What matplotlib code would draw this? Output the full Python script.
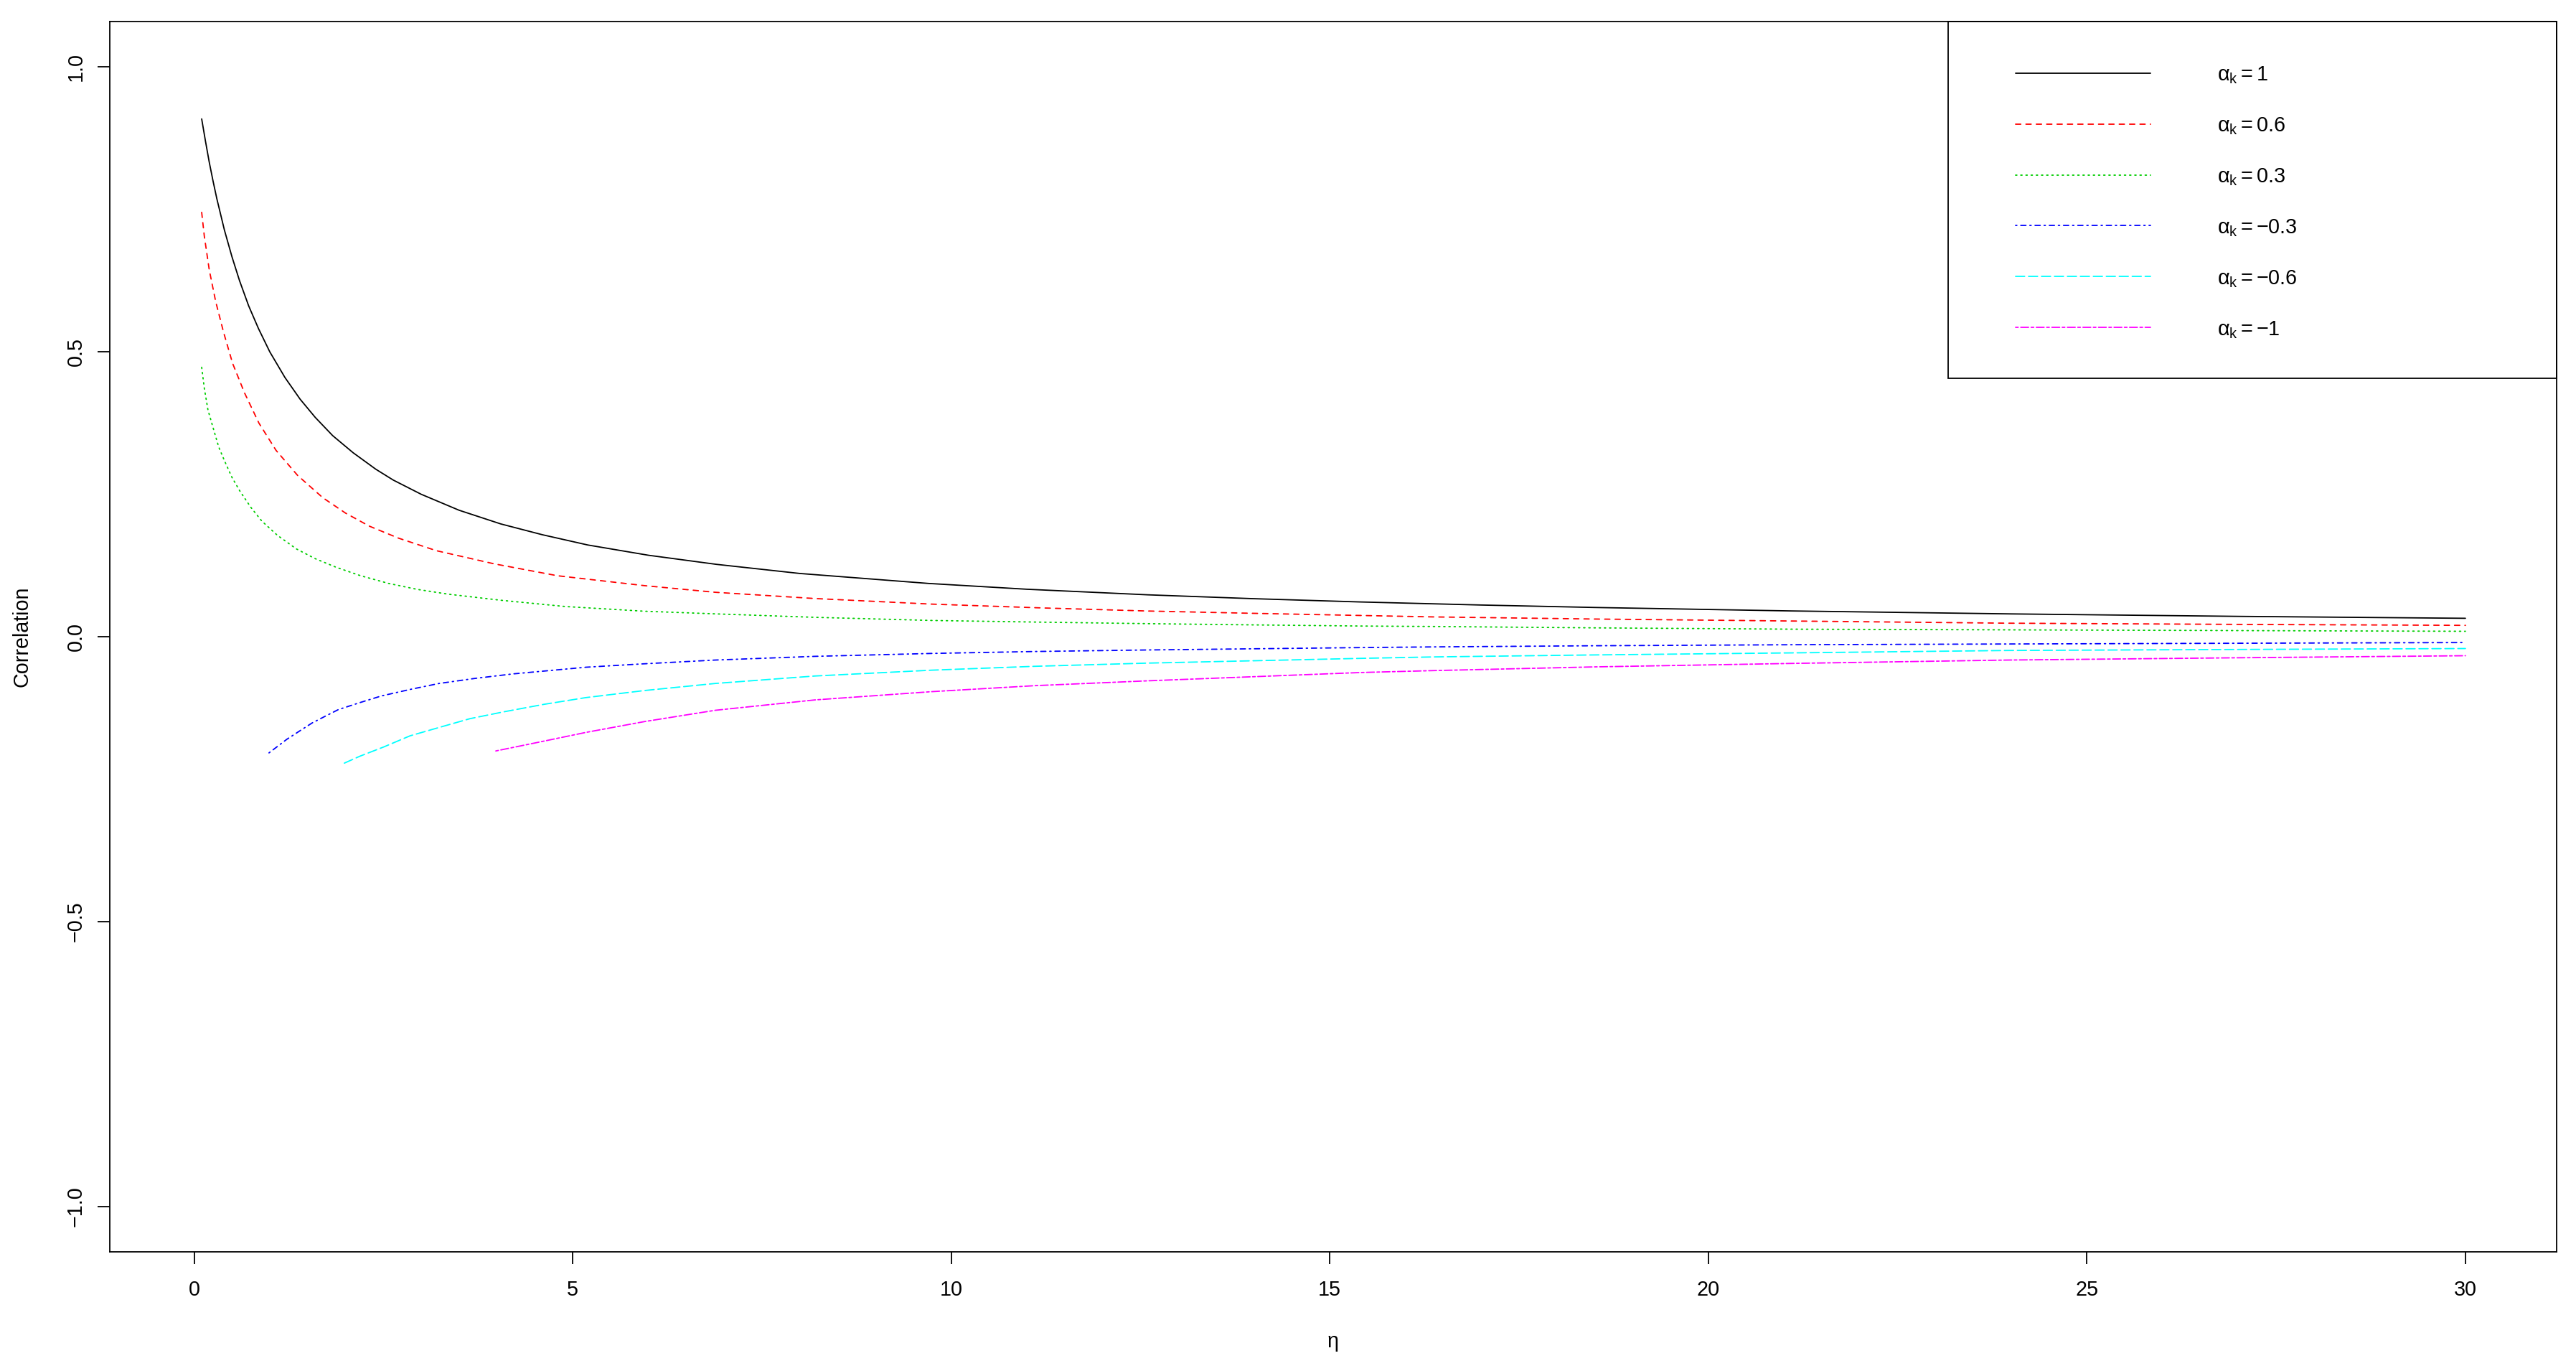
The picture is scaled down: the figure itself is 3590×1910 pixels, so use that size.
import matplotlib
matplotlib.use('Agg')
import matplotlib.pyplot as plt
from matplotlib.patches import Rectangle

plt.rcParams['font.family'] = ['Liberation Sans', 'DejaVu Sans']
plt.rcParams['mathtext.fontset'] = 'custom'
plt.rcParams['mathtext.rm'] = 'Liberation Sans'
plt.rcParams['mathtext.it'] = 'Liberation Sans'
plt.rcParams['mathtext.default'] = 'regular'

# values
eta_p1 = [0.1, 0.15, 0.2, 0.25, 0.3, 0.4, 0.5, 0.6, 0.72, 0.85, 1.0, 1.2, 1.4,
          1.6, 1.83, 2.1, 2.4, 2.63, 3.0, 3.5, 4.05, 4.6, 5.2, 6.0, 6.9, 8.0,
          9.7, 11.0, 12.6, 14.0, 15.4, 17.0, 18.5, 21.1, 24.0, 27.0, 30.0]
corr_p1 = [0.909, 0.870, 0.833, 0.800, 0.769, 0.714, 0.667, 0.625, 0.581, 0.541,
           0.500, 0.455, 0.417, 0.385, 0.353, 0.323, 0.294, 0.275, 0.250, 0.222,
           0.198, 0.179, 0.161, 0.143, 0.127, 0.111, 0.0935, 0.0833, 0.0735,
           0.0667, 0.061, 0.0556, 0.0513, 0.0452, 0.040, 0.0357, 0.0323]

eta_p06 = [0.1, 0.135, 0.2, 0.284, 0.388, 0.508, 0.666, 0.856, 1.083, 1.368,
           1.7, 2.0, 2.316, 2.7, 3.2, 3.96, 4.8, 5.95, 6.88, 8.2, 9.74, 11.2,
           12.59, 14.0, 15.43, 16.38, 18.5, 21.12, 23.96, 27.0, 30.0]
corr_p06 = [0.745, 0.703, 0.644, 0.589, 0.535, 0.480, 0.428, 0.375, 0.327, 0.283,
            0.244, 0.217, 0.194, 0.173, 0.151, 0.128, 0.107, 0.0896, 0.078,
            0.067, 0.0572, 0.0505, 0.0451, 0.041, 0.0372, 0.0347, 0.031,
            0.0275, 0.0237, 0.0216, 0.0199]

eta_p03 = [0.1, 0.135, 0.183, 0.246, 0.325, 0.404, 0.499, 0.603, 0.75, 0.894,
           1.1, 1.352, 1.6, 1.874, 2.2, 2.57, 2.95, 3.36, 4.05, 4.9, 5.95, 6.88,
           8.2, 9.74, 11.2, 12.59, 14.0, 15.43, 16.38, 18.5, 21.12, 23.96, 27.0,
           30.0]
corr_p03 = [0.473, 0.436, 0.398, 0.369, 0.333, 0.308, 0.280, 0.256, 0.227, 0.203,
            0.178, 0.154, 0.137, 0.122, 0.107, 0.0935, 0.083, 0.0746, 0.064,
            0.053, 0.0447, 0.0401, 0.034, 0.0285, 0.0255, 0.0229, 0.0207,
            0.0187, 0.0179, 0.0155, 0.0132, 0.0120, 0.0107, 0.0095]

eta_m03 = [0.989, 1.226, 1.40, 1.558, 1.731, 1.905, 2.19, 2.474, 2.853, 3.232,
           3.706, 4.213, 5.176, 5.9, 6.884, 8.2, 9.74, 11.1, 12.59, 15.43, 16.38,
           18.5, 21.12, 23.96, 27.0, 30.0]
corr_m03 = [-0.204, -0.180, -0.165, -0.1515, -0.1397, -0.128, -0.1157, -0.104,
            -0.0926, -0.0822, -0.0733, -0.0653, -0.0536, -0.0479, -0.041,
            -0.0345, -0.0294, -0.026, -0.0233, -0.0191, -0.0179, -0.0159,
            -0.0141, -0.0128, -0.0115, -0.0103]

eta_m06 = [1.984, 2.19, 2.506, 2.853, 3.201, 3.644, 4.086, 4.623, 5.176, 5.95,
           6.884, 8.2, 9.74, 11.1, 12.59, 15.43, 16.38, 18.5, 21.12, 23.96,
           27.0, 30.0]
corr_m06 = [-0.222, -0.2098, -0.1935, -0.174, -0.1607, -0.1439, -0.132, -0.1187,
            -0.1069, -0.0945, -0.0821, -0.069, -0.0588, -0.052, -0.0464, -0.038,
            -0.0355, -0.032, -0.0284, -0.0242, -0.0224, -0.0208]

eta_m1 = [3.985, 4.56, 5.176, 5.95, 6.884, 8.2, 9.74, 11.1, 12.59, 15.43, 16.38,
          18.5, 21.12, 23.96, 27.0, 30.0]
corr_m1 = [-0.2006, -0.185, -0.168, -0.149, -0.1292, -0.111, -0.0965, -0.086,
           -0.0775, -0.0628, -0.0595, -0.053, -0.0469, -0.041, -0.037, -0.0334]

labels = [r'$\alpha_k = 1$', r'$\alpha_k = 0.6$', r'$\alpha_k = 0.3$',
          r'$\alpha_k = -0.3$', r'$\alpha_k = -0.6$', r'$\alpha_k = -1$']
x_ticks = [0, 5, 10, 15, 20, 25, 30]
y_ticks = [-1.0, -0.5, 0.0, 0.5, 1.0]
y_tick_labels = ['\u22121.0', '\u22120.5', '0.0', '0.5', '1.0']

series = [(eta_p1, corr_p1), (eta_p06, corr_p06), (eta_p03, corr_p03),
          (eta_m03, corr_m03), (eta_m06, corr_m06), (eta_m1, corr_m1)]
colors = ['black', '#FF0000', '#00CD00', '#0000FF', '#00FFFF', '#FF00FF']
# R lty 1..6
dashes = [None, (4, 4), (1, 3), (1, 3, 4, 3), (7, 3), (2, 2, 6, 2)]

lw = 1.3
fs = 20.7

fig = plt.figure(figsize=(35.9, 19.1), dpi=100)
ax = fig.add_axes([0.04273, 0.0869, 0.94961, 0.8974])

for (xs, ys), c, d in zip(series, colors, dashes):
    line, = ax.plot(xs, ys, color=c, lw=lw, solid_capstyle='round',
                    dash_capstyle='round', solid_joinstyle='round')
    if d is not None:
        line.set_dashes(d)

ax.set_xlim(-1.11, 31.2)
ax.set_ylim(-1.08, 1.08)
ax.set_xticks(x_ticks)
ax.set_xticklabels([str(t) for t in x_ticks])
ax.set_yticks(y_ticks)
ax.set_yticklabels(y_tick_labels, rotation=90, va='center')
ax.tick_params(axis='both', direction='out', length=12.4, width=lw,
               labelsize=fs, color='black')
ax.tick_params(axis='x', pad=16)
ax.tick_params(axis='y', pad=12)
for s in ax.spines.values():
    s.set_linewidth(lw)

ax.set_xlabel('\u03b7', fontsize=fs)
ax.set_ylabel('Correlation', fontsize=fs)
ax.xaxis.set_label_coords(0.5, -0.0648)
ax.yaxis.set_label_coords(-0.0318, 0.5)

# legend box in the top right corner, drawn like R's legend()
ax.add_patch(Rectangle((0.7514, 0.7099), 0.2486, 0.2901, transform=ax.transAxes,
                       fill=False, lw=lw, edgecolor='black', clip_on=False))
row_top = 0.9582
row_step = 0.04139
for i, (lab, c, d) in enumerate(zip(labels, colors, dashes)):
    yy = row_top - i * row_step
    h, = ax.plot([0.7790, 0.8342], [yy, yy], transform=ax.transAxes, color=c,
                 lw=lw, solid_capstyle='round', dash_capstyle='round',
                 clip_on=False)
    if d is not None:
        h.set_dashes(d)
    ax.text(0.8614, yy - 0.00604, lab, transform=ax.transAxes, fontsize=fs,
            ha='left', va='baseline')

fig.savefig('out.png', dpi=100, facecolor='white')
